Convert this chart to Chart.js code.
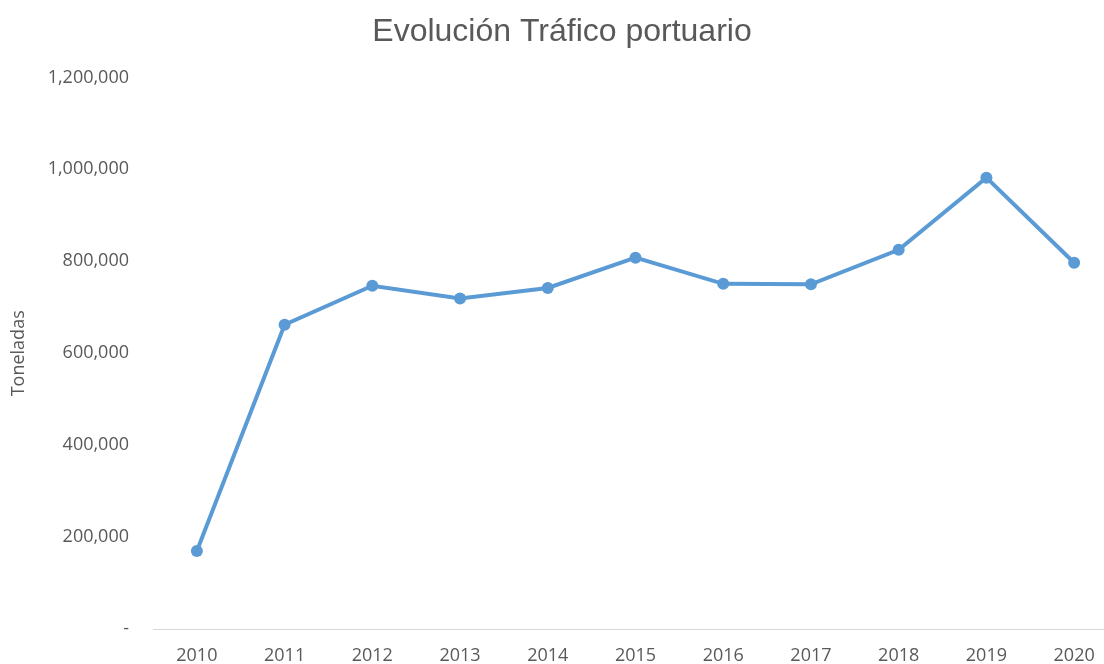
<!DOCTYPE html>
<html>
<head>
<meta charset="utf-8">
<script src="https://cdn.jsdelivr.net/npm/chart.js@4/dist/chart.umd.min.js"></script>
<style>
  html, body { margin: 0; padding: 0; overflow: hidden; background: #fff; }
  #wrap { width: 1124px; height: 664px; }
</style>
</head>
<body>
<div id="wrap"><canvas id="plot"></canvas></div>
<script>
const years = ['2010', '2011', '2012', '2013', '2014', '2015', '2016', '2017', '2018', '2019', '2020'];
const toneladas = [170000, 662000, 747000, 719000, 742000, 808000, 751000, 750000, 825000, 982000, 797000];
const yTicks = [0, 200000, 400000, 600000, 800000, 1000000, 1200000];

const ctx = document.getElementById('plot');

var chart = new Chart(ctx, {
    type: 'line',
    data: {
        labels: years,
        datasets: [{
            label: 'Toneladas',
            data: toneladas,
            borderColor: '#5b9bd5',
            backgroundColor: '#5b9bd5',
            borderWidth: 4,
            pointRadius: 6,
            pointBorderWidth: 0,
            pointHoverRadius: 6,
            tension: 0
        }]
    },
    options: {
        responsive: true,
        maintainAspectRatio: false,
        animation: false,
        layout: { padding: { left: 0, right: 0, top: 0, bottom: -19 } },
        plugins: {
            legend: { display: false },
            tooltip: { enabled: false },
            title: {
                display: true,
                text: 'Evolución Tráfico portuario',
                color: '#595959',
                font: { family: 'Liberation Sans', size: 32, weight: 'normal' },
                padding: { top: 13, bottom: 26 }
            }
        },
        scales: {
            x: {
                offset: true,
                grid: { display: false, drawTicks: false },
                border: { display: true, color: '#d9d9d9', width: 1 },
                ticks: {
                    color: '#595959',
                    font: { family: 'Open Sans', size: 18 },
                    padding: 16,
                    maxRotation: 0
                }
            },
            y: {
                min: 0,
                max: 1200000,
                afterBuildTicks: function (axis) {
                    axis.ticks = yTicks.map(v => ({ value: v }));
                },
                afterFit: function (axis) { axis.width = 153; },
                grid: { display: false, drawTicks: false },
                border: { display: false },
                title: {
                    display: true,
                    text: 'Toneladas',
                    color: '#595959',
                    font: { family: 'Open Sans', size: 18 },
                    padding: { top: 8, bottom: 0 }
                },
                ticks: {
                    color: '#595959',
                    font: { family: 'Open Sans', size: 18 },
                    padding: 24,
                    callback: function (v) {
                        return v === 0 ? '-' : v.toLocaleString('en-US');
                    }
                }
            }
        }
    }
});
</script>
</body>
</html>
